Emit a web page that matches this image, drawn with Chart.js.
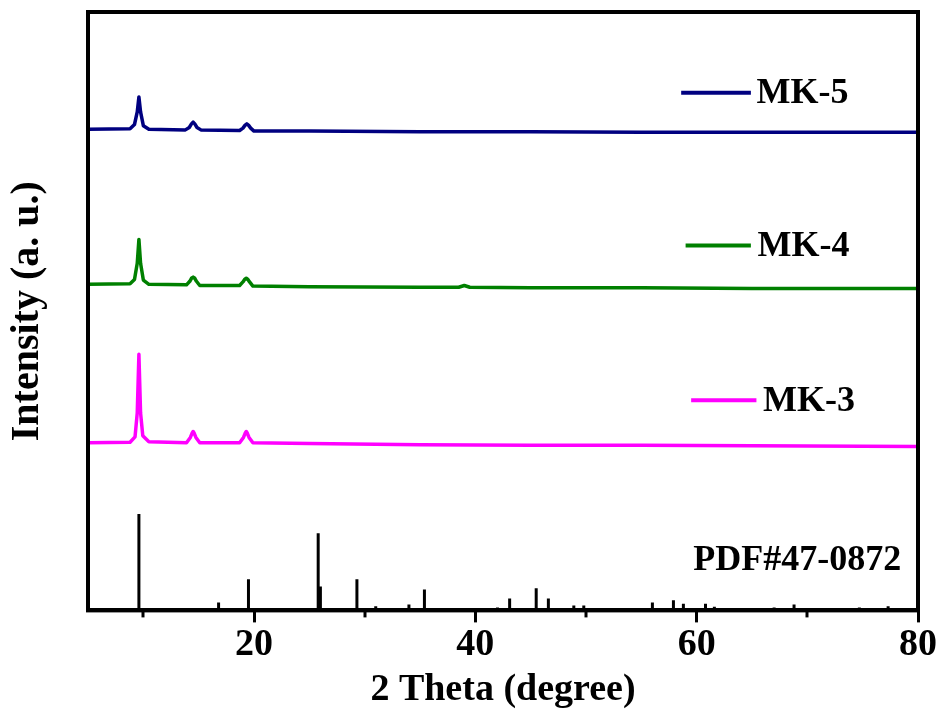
<!DOCTYPE html>
<html>
<head>
<meta charset="utf-8">
<script src="https://cdn.jsdelivr.net/npm/chart.js@4/dist/chart.umd.min.js"></script>
<style>
  body { margin: 0; background: #fff; }
  #wrap { width: 940px; height: 710px; }
</style>
</head>
<body>
<div id="wrap"><canvas id="chart"></canvas></div>
<script>
// XRD patterns, 2 theta (degree) vs intensity (offset, a.u.)
var mk5X = [5, 8.8, 9.2, 9.45, 9.6, 9.75, 10.0, 10.5, 13.8, 14.15, 14.35, 14.5, 14.65, 14.85, 15.2, 18.7, 19.0, 19.2, 19.35, 19.5, 19.7, 20.0, 25, 35, 45, 55, 65, 80];
var mk5Y = [80.4, 80.5, 81.2, 83.3, 85.8, 83.3, 81.0, 80.4, 80.3, 80.7, 81.3, 81.6, 81.3, 80.7, 80.3, 80.2, 80.6, 81.1, 81.3, 81.1, 80.6, 80.1, 80.1, 80.0, 80.0, 79.9, 79.9, 79.9];

var mk4X = [5, 8.8, 9.2, 9.45, 9.6, 9.75, 10.0, 10.5, 13.9, 14.2, 14.35, 14.5, 14.65, 14.8, 15.1, 18.7, 19.0, 19.15, 19.3, 19.45, 19.6, 19.9, 25, 35, 38.5, 39, 39.5, 45, 55, 65, 80];
var mk4Y = [54.5, 54.6, 55.3, 58.0, 62.0, 58.0, 55.2, 54.5, 54.4, 55.0, 55.5, 55.7, 55.5, 55.0, 54.3, 54.3, 54.9, 55.3, 55.5, 55.3, 54.9, 54.2, 54.1, 54.0, 54.0, 54.3, 54.0, 53.9, 53.9, 53.8, 53.8];

var mk3X = [5, 8.8, 9.25, 9.45, 9.6, 9.75, 9.95, 10.5, 13.9, 14.25, 14.4, 14.5, 14.6, 14.75, 15.1, 18.7, 19.05, 19.2, 19.3, 19.4, 19.55, 19.9, 25, 35, 45, 55, 65, 80];
var mk3Y = [28.0, 28.1, 29.0, 33.0, 42.8, 33.0, 29.2, 28.2, 28.0, 28.9, 29.6, 29.9, 29.6, 28.9, 28.0, 28.0, 28.9, 29.6, 29.9, 29.6, 28.9, 28.0, 27.9, 27.7, 27.6, 27.6, 27.5, 27.4];

// standard card PDF#47-0872, stick positions and heights
var pdfPos = [9.6, 16.8, 19.5, 25.8, 26.0, 29.3, 31.0, 34.0, 35.4, 42.0, 43.1, 45.5, 46.6, 48.9, 49.8, 52.1, 53.0, 56.0, 57.9, 58.8, 60.8, 61.6, 63.5, 67.0, 68.8, 71.0, 72.3, 74.7, 77.3, 79.4];
var pdfInt = [16.1, 1.3, 5.2, 12.9, 4.0, 5.2, 0.7, 1.0, 3.5, 0.5, 2.0, 3.7, 2.0, 0.8, 0.8, 0.4, 0.4, 1.3, 1.7, 1.1, 1.1, 0.6, 0.3, 0.5, 1.0, 0.3, 0.3, 0.5, 0.7, 0.4];

var xTicks = [20, 40, 60, 80];
var xMinorTicks = [10, 30, 50, 70];

function pts(xs, ys) {
  return xs.map(function (x, i) { return { x: x, y: ys[i] }; });
}

var sticks = [];
pdfPos.forEach(function (p, i) {
  sticks.push({ x: p, y: 0 }, { x: p, y: pdfInt[i] }, { x: p, y: null });
});

var serif = '"Liberation Serif", "Times New Roman", serif';

// box round the plot, minor ticks, and the labels beside each curve
var decor = {
  id: 'decor',
  afterDraw: function (chart) {
    var ctx = chart.ctx, a = chart.chartArea;
    var xs = chart.scales.x, ys = chart.scales.y;
    ctx.save();
    ctx.strokeStyle = '#000';
    ctx.lineWidth = 4;
    ctx.strokeRect(a.left, a.top, a.right - a.left, a.bottom - a.top);
    ctx.lineWidth = 3;
    xMinorTicks.forEach(function (v) {
      var px = Math.round(xs.getPixelForValue(v));
      ctx.beginPath();
      ctx.moveTo(px, a.bottom);
      ctx.lineTo(px, a.bottom + 7);
      ctx.stroke();
    });
    var labels = [
      { text: 'MK-5', color: '#000080', x1: 58.6, x2: 64.9, tx: 65.4, y: 86.5 },
      { text: 'MK-4', color: '#008000', x1: 59.0, x2: 64.9, tx: 65.5, y: 61.0 },
      { text: 'MK-3', color: '#ff00ff', x1: 59.5, x2: 65.4, tx: 66.0, y: 35.1 },
      { text: 'PDF#47-0872', color: null, tx: 59.7, y: 8.4 }
    ];
    ctx.font = 'bold 36px ' + serif;
    ctx.textBaseline = 'middle';
    ctx.textAlign = 'left';
    labels.forEach(function (l) {
      var py = ys.getPixelForValue(l.y);
      if (l.color) {
        ctx.strokeStyle = l.color;
        ctx.lineWidth = 4;
        ctx.beginPath();
        ctx.moveTo(xs.getPixelForValue(l.x1), py);
        ctx.lineTo(xs.getPixelForValue(l.x2), py);
        ctx.stroke();
      }
      ctx.fillStyle = '#000';
      ctx.fillText(l.text, xs.getPixelForValue(l.tx), py + 1);
    });
    ctx.restore();
  }
};

new Chart(document.getElementById('chart'), {
  type: 'line',
  data: {
    datasets: [
      { label: 'MK-5', data: pts(mk5X, mk5Y), borderColor: '#000080', borderWidth: 3.5 },
      { label: 'MK-4', data: pts(mk4X, mk4Y), borderColor: '#008000', borderWidth: 3.5 },
      { label: 'MK-3', data: pts(mk3X, mk3Y), borderColor: '#ff00ff', borderWidth: 3.5 },
      { label: 'PDF#47-0872', data: sticks, borderColor: '#000', borderWidth: 3, spanGaps: false }
    ]
  },
  options: {
    responsive: true,
    maintainAspectRatio: false,
    animation: false,
    layout: { padding: { top: 12, right: 22, left: 0, bottom: 0 } },
    elements: { point: { radius: 0 }, line: { tension: 0, borderCapStyle: 'butt', borderJoinStyle: 'round' } },
    plugins: { legend: { display: false }, tooltip: { enabled: false } },
    scales: {
      x: {
        type: 'linear',
        min: 5,
        max: 80,
        afterBuildTicks: function (s) { s.ticks = xTicks.map(function (v) { return { value: v }; }); },
        grid: { drawOnChartArea: false, tickLength: 12, tickWidth: 3, tickColor: '#000' },
        border: { color: '#000', width: 4 },
        ticks: { color: '#000', padding: 0, maxRotation: 0, font: { family: serif, size: 38, weight: 'bold', lineHeight: 1.2 } },
        title: { display: true, text: '2 Theta (degree)', color: '#000', padding: { top: 3, bottom: 1 }, font: { family: serif, size: 38, weight: 'bold', lineHeight: 1 } }
      },
      y: {
        min: 0,
        max: 100,
        grid: { drawOnChartArea: false, drawTicks: false },
        border: { color: '#000', width: 4 },
        ticks: { display: false },
        title: { display: true, text: 'Intensity (a. u.)', color: '#000', padding: { top: 8, bottom: 40 }, font: { family: serif, size: 40, weight: 'bold', lineHeight: 1 } }
      }
    }
  },
  plugins: [decor]
});
</script>
</body>
</html>
